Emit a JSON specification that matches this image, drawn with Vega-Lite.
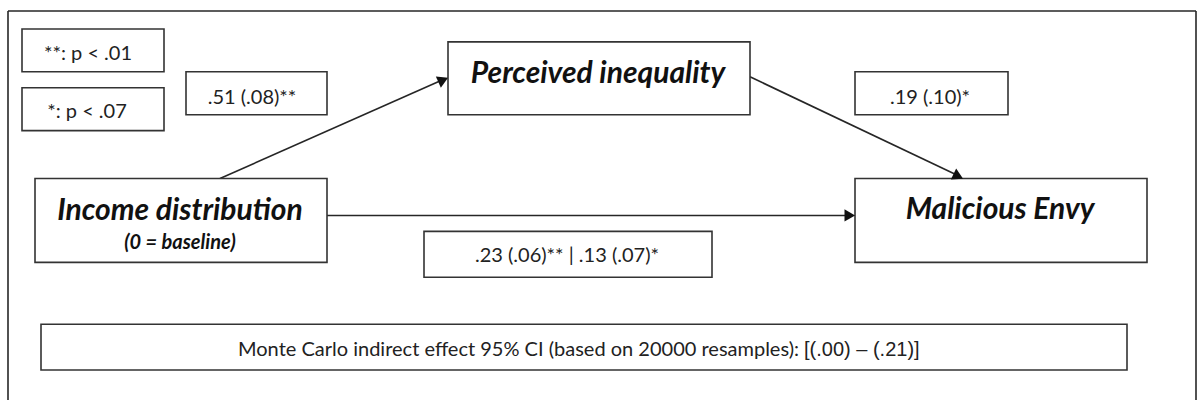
{
  "$schema": "https://vega.github.io/schema/vega-lite/v6.json",
  "width": 1197,
  "height": 401,
  "autosize": {"type": "fit", "contains": "padding"},
  "padding": 0,
  "background": "white",
  "config": {"view": {"stroke": null}},
  "datasets": {
    "boxes": [
      {"name": "legend1", "x1": 22, "x2": 164, "y1": 29, "y2": 72},
      {"name": "legend2", "x1": 22, "x2": 164, "y1": 88, "y2": 131},
      {"name": "pathA", "x1": 186, "x2": 327, "y1": 72, "y2": 115},
      {"name": "mediator", "x1": 448, "x2": 750, "y1": 42, "y2": 115},
      {"name": "pathB", "x1": 855, "x2": 1008, "y1": 72, "y2": 115},
      {"name": "predictor", "x1": 35, "x2": 327, "y1": 179, "y2": 263},
      {"name": "outcome", "x1": 855, "x2": 1147, "y1": 179, "y2": 263},
      {"name": "pathC", "x1": 424, "x2": 712, "y1": 232, "y2": 278},
      {"name": "indirect", "x1": 41, "x2": 1127, "y1": 325, "y2": 371}
    ],
    "lines": [
      {"name": "frameLeft", "x1": 8, "y1": 11, "x2": 8, "y2": 401},
      {"name": "frameTop", "x1": 8, "y1": 11, "x2": 1196, "y2": 11},
      {"name": "frameRight", "x1": 1196, "y1": 11, "x2": 1196, "y2": 401},
      {"name": "a", "x1": 220, "y1": 179, "x2": 445, "y2": 79},
      {"name": "b", "x1": 750, "y1": 77, "x2": 960, "y2": 177},
      {"name": "c", "x1": 327, "y1": 216, "x2": 852, "y2": 216}
    ],
    "heads": [
      {"name": "a", "x": 443.2, "y": 80.1, "heading": 66.1},
      {"name": "b", "x": 958.3, "y": 176.8, "heading": 115.6},
      {"name": "c", "x": 849.8, "y": 216, "heading": 90}
    ],
    "texts": [
      {"role": "small", "label": "**: p < .01", "x": 88, "y": 54},
      {"role": "small", "label": "*: p < .07", "x": 87, "y": 112},
      {"role": "small", "label": ".51 (.08)**", "x": 252, "y": 98},
      {"role": "small", "label": ".19 (.10)*", "x": 930, "y": 98},
      {"role": "small", "label": ".23 (.06)** | .13 (.07)*", "x": 567, "y": 257},
      {"role": "smallRight", "label": "Monte Carlo indirect effect 95% CI (based on 20000 resamples):", "x": 799, "y": 351},
      {"role": "arial", "label": "[(.00) – (.21)]", "x": 804, "y": 351},
      {"role": "title", "label": "Perceived inequality", "x": 598, "y": 74},
      {"role": "title", "label": "Income distribution", "x": 180, "y": 212},
      {"role": "title", "label": "Malicious Envy", "x": 1000, "y": 211},
      {"role": "sub", "label": "(0 = baseline)", "x": 180, "y": 244}
    ]
  },
  "encoding": {
    "x": {"type": "quantitative", "scale": {"domain": [0, 1197], "nice": false, "zero": false}, "axis": null},
    "y": {"type": "quantitative", "scale": {"domain": [0, 401], "nice": false, "zero": false, "reverse": true}, "axis": null}
  },
  "layer": [
    {
      "data": {"name": "lines"},
      "mark": {"type": "rule", "color": "#262626", "strokeWidth": 1.6},
      "encoding": {
        "x": {"field": "x1", "type": "quantitative"},
        "y": {"field": "y1", "type": "quantitative"},
        "x2": {"field": "x2"},
        "y2": {"field": "y2"}
      }
    },
    {
      "data": {"name": "boxes"},
      "mark": {"type": "rect", "fill": "white", "stroke": "#333333", "strokeWidth": 1.6},
      "encoding": {
        "x": {"field": "x1", "type": "quantitative"},
        "x2": {"field": "x2"},
        "y": {"field": "y1", "type": "quantitative"},
        "y2": {"field": "y2"}
      }
    },
    {
      "data": {"name": "heads"},
      "mark": {"type": "point", "shape": "triangle-up", "filled": true, "color": "#111111", "size": 150, "opacity": 1},
      "encoding": {
        "x": {"field": "x", "type": "quantitative"},
        "y": {"field": "y", "type": "quantitative"},
        "angle": {"field": "heading", "type": "quantitative", "scale": null}
      }
    },
    {
      "data": {"name": "texts"},
      "transform": [{"filter": "datum.role === 'small'"}],
      "mark": {"type": "text", "font": "Lato", "fontSize": 20, "color": "#222222", "align": "center", "baseline": "middle"},
      "encoding": {
        "x": {"field": "x", "type": "quantitative"},
        "y": {"field": "y", "type": "quantitative"},
        "text": {"field": "label"}
      }
    },
    {
      "data": {"name": "texts"},
      "transform": [{"filter": "datum.role === 'smallRight'"}],
      "mark": {"type": "text", "font": "Lato", "fontSize": 20, "color": "#222222", "align": "right", "baseline": "middle"},
      "encoding": {
        "x": {"field": "x", "type": "quantitative"},
        "y": {"field": "y", "type": "quantitative"},
        "text": {"field": "label"}
      }
    },
    {
      "data": {"name": "texts"},
      "transform": [{"filter": "datum.role === 'arial'"}],
      "mark": {"type": "text", "font": "Liberation Sans", "fontSize": 20, "color": "#222222", "align": "left", "baseline": "middle"},
      "encoding": {
        "x": {"field": "x", "type": "quantitative"},
        "y": {"field": "y", "type": "quantitative"},
        "text": {"field": "label"}
      }
    },
    {
      "data": {"name": "texts"},
      "transform": [{"filter": "datum.role === 'title'"}],
      "mark": {"type": "text", "font": "Lato", "fontSize": 30, "fontWeight": "bold", "fontStyle": "italic", "color": "#111111", "align": "center", "baseline": "middle"},
      "encoding": {
        "x": {"field": "x", "type": "quantitative"},
        "y": {"field": "y", "type": "quantitative"},
        "text": {"field": "label"}
      }
    },
    {
      "data": {"name": "texts"},
      "transform": [{"filter": "datum.role === 'sub'"}],
      "mark": {"type": "text", "font": "Lato", "fontSize": 20, "fontWeight": "bold", "fontStyle": "italic", "color": "#111111", "align": "center", "baseline": "middle"},
      "encoding": {
        "x": {"field": "x", "type": "quantitative"},
        "y": {"field": "y", "type": "quantitative"},
        "text": {"field": "label"}
      }
    }
  ]
}
